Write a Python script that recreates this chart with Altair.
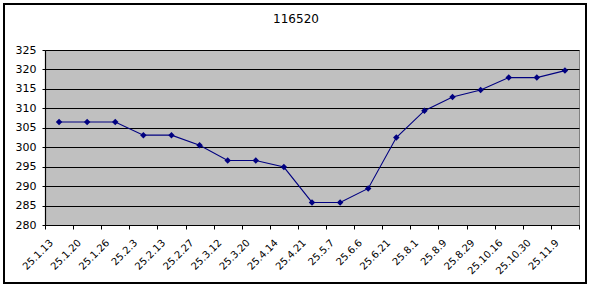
import altair as alt
import pandas as pd

dates = ["25.1.13", "25.1.20", "25.1.26", "25.2.3", "25.2.13", "25.2.27", "25.3.12",
         "25.3.20", "25.4.14", "25.4.21", "25.5.7", "25.6.6", "25.6.21", "25.8.1",
         "25.8.9", "25.8.29", "25.10.16", "25.10.30", "25.11.9"]
values = [306.5, 306.5, 306.5, 303.1, 303.1, 300.5, 296.6, 296.6, 294.9, 285.8,
          285.8, 289.4, 302.5, 309.4, 312.9, 314.7, 317.9, 317.9, 319.7]
y_ticks = [280, 285, 290, 295, 300, 305, 310, 315, 320, 325]
title_text = "116520"

df = pd.DataFrame({"date": dates, "value": values})

W, H = 534, 175
FONT = "DejaVu Sans"

x_enc = alt.X("date:N", sort=dates, title=None,
              scale=alt.Scale(paddingInner=0, paddingOuter=0),
              axis=alt.Axis(labelAngle=-45, labelAlign="right", labelBaseline="middle",
                            labelPadding=12, labelOffset=-8, labelFontSize=10, labelFont=FONT,
                            labelColor="black", tickBand="extent", tickSize=4,
                            tickColor="black", domainColor="black", domainWidth=1.2,
                            grid=False, labelOverlap=False))
y_enc = alt.Y("value:Q", title=None,
              scale=alt.Scale(domain=[280, 325], nice=False, zero=False),
              axis=alt.Axis(values=y_ticks, labelFontSize=11, labelFont=FONT,
                            labelColor="black", labelPadding=6, tickSize=3,
                            tickColor="black", domainColor="black", domainWidth=1.2,
                            grid=True, gridColor="black", gridWidth=1, gridOpacity=1,
                            labelOverlap=False))

base = alt.Chart(df).encode(x=x_enc, y=y_enc)
line = base.mark_line(color="#000080", strokeWidth=1.1)
pts = base.mark_point(shape="diamond", filled=True, size=42, color="#000080", opacity=1)

frame = alt.Chart(df).mark_rect(fill=None, stroke="black", strokeWidth=1.5, clip=False).encode(
    x=alt.value(-41), x2=alt.value(541), y=alt.value(-46), y2=alt.value(233))

title = alt.Chart(pd.DataFrame({"t": [title_text]})).mark_text(
    fontSize=12, font=FONT, color="black", align="center", baseline="middle", clip=False
).encode(text="t:N", x=alt.value(251), y=alt.value(-31))

chart = alt.layer(line, pts, frame, title).properties(
    width=W, height=H,
    background="white",
    autosize=alt.AutoSizeParams(type="none"),
    padding={"left": 45, "top": 50, "right": 13, "bottom": 63},
).configure_view(fill="#C0C0C0", stroke="#808080", strokeWidth=1)

chart.save("out.html", embed_options={"renderer": "svg", "actions": False})
